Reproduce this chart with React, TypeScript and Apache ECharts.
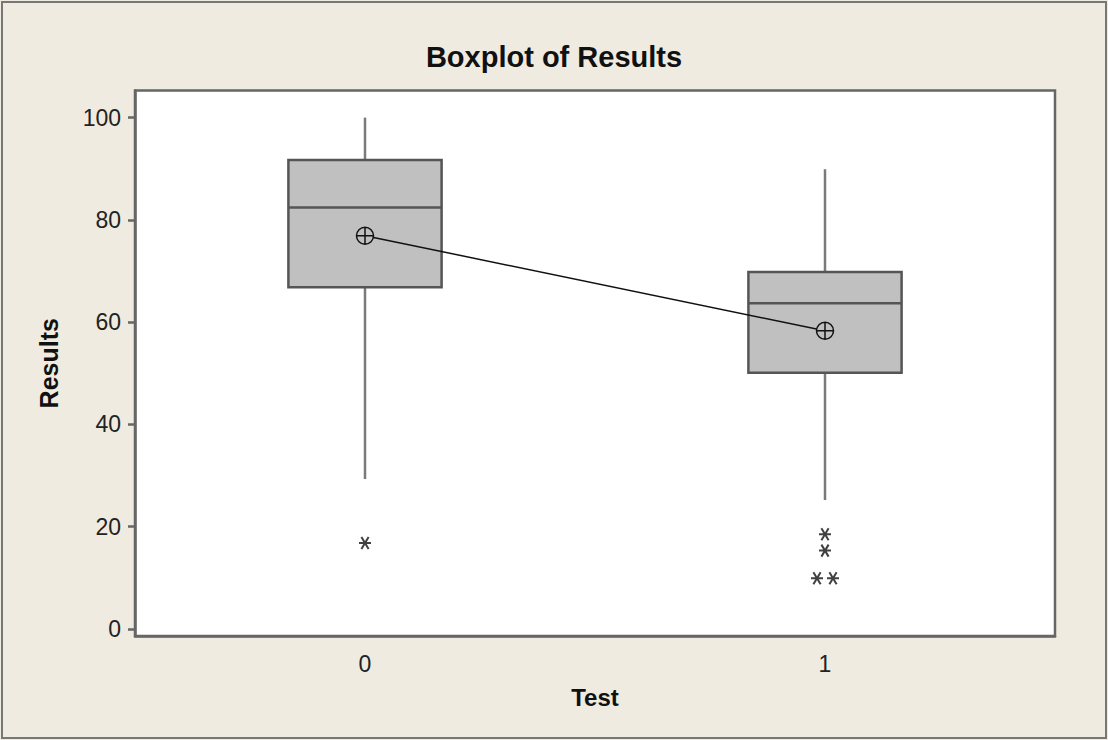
import React, { useEffect, useRef } from "react";
import * as echarts from "echarts";

const categories = ["0", "1"];
const whiskerLow = [29.3, 25.2];
const q1 = [66.8, 50.1];
const median = [82.4, 63.7];
const q3 = [91.7, 69.8];
const whiskerHigh = [100, 89.9];
const means = [76.9, 58.3];
const outliers: [number, number][] = [
  [0, 16.8],
  [1, 18.5],
  [1, 15.3],
  [1, 9.9],
  [1, 9.9],
];
const outlierOffsets: number[] = [0, 0, 0, -8, 8];
const yTicks = [0, 20, 40, 60, 80, 100];

const FONT = "'Liberation Sans', Arial, sans-serif";

export default function App() {
  const ref = useRef<HTMLDivElement>(null);
  useEffect(() => {
    document.body.style.margin = "0";
    const chart = echarts.init(ref.current!, null, { renderer: "svg" });
    const boxData = categories.map((_, i) => [i, whiskerLow[i], q1[i], median[i], q3[i], whiskerHigh[i]]);
    chart.setOption({
      animation: false,
      backgroundColor: "#efebe0",
      title: {
        text: "Boxplot of Results",
        left: "center",
        top: 37,
        textStyle: { fontFamily: FONT, fontSize: 29, fontWeight: "bold", color: "#111" },
      },
      graphic: [
        {
          type: "rect",
          shape: { x: 2, y: 2, width: 1104, height: 736 },
          style: { fill: "none", stroke: "#777", lineWidth: 2 },
          silent: true,
        },
      ],
      grid: {
        left: 135,
        top: 90.5,
        right: 53,
        bottom: 104,
        show: true,
        backgroundColor: "#ffffff",
        borderColor: "#666",
        borderWidth: 2.5,
      },
      xAxis: {
        type: "category",
        data: categories,
        boundaryGap: true,
        name: "Test",
        nameLocation: "middle",
        nameGap: 49,
        nameTextStyle: { fontFamily: FONT, fontSize: 24, fontWeight: "bold", color: "#111" },
        axisLine: { onZero: false, lineStyle: { color: "#666", width: 2.5 } },
        axisTick: { alignWithLabel: true, length: 9, lineStyle: { color: "#666", width: 2.5 } },
        axisLabel: { fontFamily: FONT, fontSize: 23, color: "#222", margin: 16 },
        splitLine: { show: false },
      },
      yAxis: {
        type: "value",
        min: -1.4,
        max: 105.3,
        name: "Results",
        nameLocation: "middle",
        nameGap: 74,
        nameTextStyle: { fontFamily: FONT, fontSize: 25, fontWeight: "bold", color: "#111" },
        axisLine: { show: true, onZero: false, lineStyle: { color: "#666", width: 2.5 } },
        axisTick: { show: true, length: 7, customValues: yTicks, lineStyle: { color: "#666", width: 2.5 } },
        axisLabel: { fontFamily: FONT, fontSize: 23, color: "#222", margin: 14, customValues: yTicks },
        splitLine: { show: false },
      },
      series: [
        {
          type: "custom",
          data: boxData,
          encode: { x: 0, y: [1, 2, 3, 4, 5] },
          renderItem: (params: any, api: any) => {
            const idx = api.value(0);
            const lo = api.coord([idx, api.value(1)]);
            const b1 = api.coord([idx, api.value(2)]);
            const md = api.coord([idx, api.value(3)]);
            const b3 = api.coord([idx, api.value(4)]);
            const hi = api.coord([idx, api.value(5)]);
            const cx = lo[0];
            const w = api.size([1, 0])[0] * 0.333;
            const wh = { stroke: "#7a7a7a", lineWidth: 2.5 };
            return {
              type: "group",
              children: [
                { type: "line", shape: { x1: cx, y1: hi[1], x2: cx, y2: b3[1] }, style: wh },
                { type: "line", shape: { x1: cx, y1: b1[1], x2: cx, y2: lo[1] }, style: wh },
                {
                  type: "rect",
                  shape: { x: cx - w / 2, y: b3[1], width: w, height: b1[1] - b3[1] },
                  style: { fill: "#c0c0c0", stroke: "#555", lineWidth: 2.5 },
                },
                {
                  type: "line",
                  shape: { x1: cx - w / 2, y1: md[1], x2: cx + w / 2, y2: md[1] },
                  style: { stroke: "#555", lineWidth: 2.5 },
                },
              ],
            };
          },
          z: 2,
        },
        {
          type: "line",
          data: means,
          symbol: "path://M0,-10A10,10 0 1,1 0,10A10,10 0 1,1 0,-10ZM-10,0L10,0M0,-10L0,10",
          symbolSize: 17,
          itemStyle: { color: "#c0c0c0", borderColor: "#111", borderWidth: 1.5 },
          lineStyle: { color: "#111", width: 1.5 },
          z: 3,
        },
        {
          type: "scatter",
          data: outliers.map((p, i) => ({ value: p, symbolOffset: [outlierOffsets[i], 0] })),
          symbol: "path://M-5,0L5,0M-3,-5L3,5M3,-5L-3,5",
          symbolSize: 12,
          itemStyle: { color: "none", borderColor: "#111", borderWidth: 2 },
          z: 3,
        },
      ],
    });
    return () => chart.dispose();
  }, []);
  return <div ref={ref} style={{ width: 1108, height: 740 }} />;
}
